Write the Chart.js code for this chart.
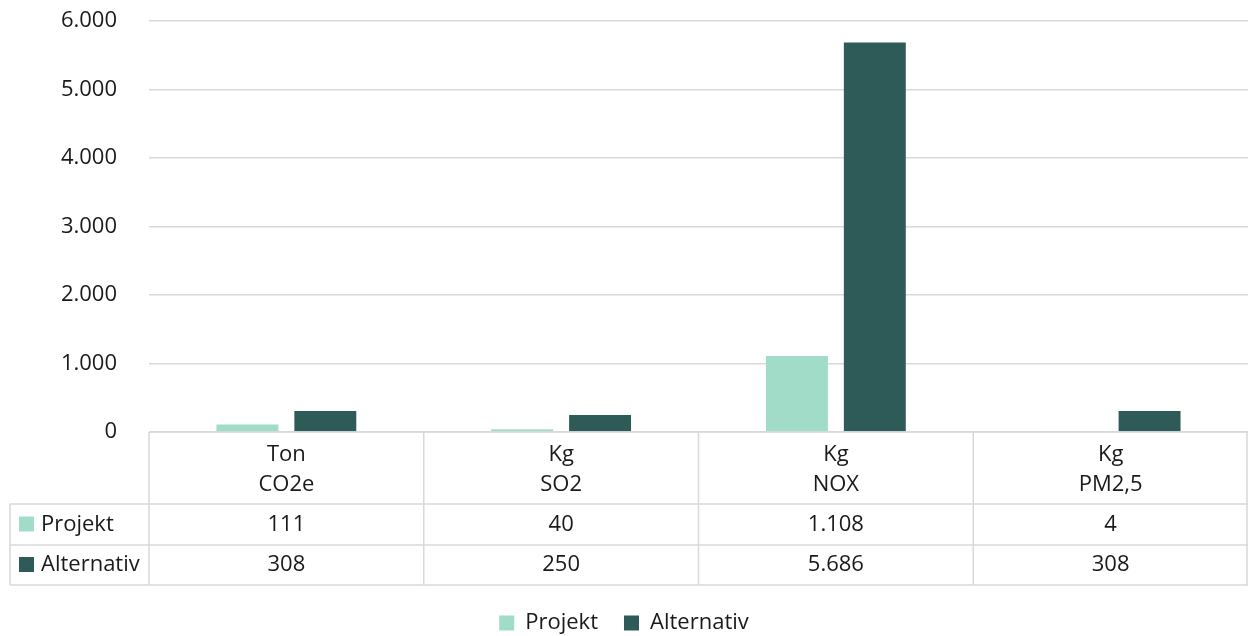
<!DOCTYPE html>
<html>
<head>
<meta charset="utf-8">
<script src="https://cdn.jsdelivr.net/npm/chart.js@4/dist/chart.umd.min.js"></script>
<style>
  html, body { margin: 0; padding: 0; background: #fff; }
  #wrap { width: 1248px; height: 636px; }
</style>
</head>
<body>
<div id="wrap"><canvas id="chart" width="1248" height="636"></canvas></div>
<script>
// data
const categories = [['Ton', 'CO2e'], ['Kg', 'SO2'], ['Kg', 'NOX'], ['Kg', 'PM2,5']];
const seriesNames = ['Projekt', 'Alternativ'];
const projekt = [111, 40, 1108, 4];
const alternativ = [308, 250, 5686, 308];
const yTicks = [0, 1000, 2000, 3000, 4000, 5000, 6000];

const colors = ['#A0DCC8', '#2E5B58'];
const textColor = '#1a1a1a';
const lineColor = '#D9D9D9';
const fontFamily = '"Open Sans", "Noto Sans", sans-serif';
const fontSize = 22;

// danish style thousands: 1.108
const fmt = v => String(v).replace(/\B(?=(\d{3})+(?!\d))/g, '.');

// draws the data table under the plot using the x scale
const dataTable = {
  id: 'dataTable',
  afterDraw(chart) {
    const ctx = chart.ctx;
    const x = chart.scales.x;
    const area = chart.chartArea;
    const n = categories.length;
    const cw = (area.right - area.left) / n;
    const top = x.top;
    const headerBottom = top + 72;
    const rowH = [41, 40];
    const rowsLeft = 10;
    const series = [projekt, alternativ];

    ctx.save();
    ctx.strokeStyle = lineColor;
    ctx.lineWidth = 1.5;
    ctx.beginPath();
    // top line of the header
    ctx.moveTo(area.left, top); ctx.lineTo(area.right, top);
    // row lines
    let y = headerBottom;
    ctx.moveTo(rowsLeft, y); ctx.lineTo(area.right, y);
    rowH.forEach(h => { y += h; ctx.moveTo(rowsLeft, y); ctx.lineTo(area.right, y); });
    const tableBottom = y;
    // vertical lines
    ctx.moveTo(rowsLeft, headerBottom); ctx.lineTo(rowsLeft, tableBottom);
    for (let i = 0; i <= n; i++) {
      const px = i === n ? area.right - 1 : area.left + i * cw;
      ctx.moveTo(px, top); ctx.lineTo(px, tableBottom);
    }
    ctx.stroke();

    ctx.font = fontSize + 'px ' + fontFamily;
    ctx.fillStyle = textColor;
    ctx.textAlign = 'center';
    ctx.textBaseline = 'middle';
    categories.forEach((lbl, i) => {
      const cx = x.getPixelForValue(i);
      ctx.fillText(lbl[0], cx, top + 23);
      ctx.fillText(lbl[1], cx, top + 53);
    });

    let rowTop = headerBottom;
    series.forEach((vals, s) => {
      const cy = rowTop + rowH[s] / 2;
      vals.forEach((v, i) => {
        ctx.textAlign = 'center';
        ctx.fillStyle = textColor;
        ctx.fillText(fmt(v), x.getPixelForValue(i), cy);
      });
      ctx.fillStyle = colors[s];
      ctx.fillRect(19, cy - 8, 15, 15);
      ctx.fillStyle = textColor;
      ctx.textAlign = 'left';
      ctx.fillText(seriesNames[s], 41, cy);
      rowTop += rowH[s];
    });
    ctx.restore();
  }
};

new Chart(document.getElementById('chart'), {
  type: 'bar',
  data: {
    labels: categories,
    datasets: [
      { label: seriesNames[0], data: projekt, backgroundColor: colors[0], borderWidth: 0 },
      { label: seriesNames[1], data: alternativ, backgroundColor: colors[1], borderWidth: 0 }
    ]
  },
  options: {
    responsive: false,
    animation: false,
    categoryPercentage: 0.567,
    barPercentage: 0.795,
    layout: { padding: { top: 21, left: 0, right: 0, bottom: -8 } },
    plugins: {
      tooltip: { enabled: false },
      legend: {
        position: 'bottom',
        labels: {
          boxWidth: 15,
          boxHeight: 15,
          padding: 26,
          color: textColor,
          font: { family: fontFamily, size: fontSize }
        }
      }
    },
    scales: {
      x: {
        grid: { display: false },
        border: { display: false },
        ticks: { display: false },
        afterFit: s => { s.height = 154; }
      },
      y: {
        min: 0,
        max: 6000,
        afterBuildTicks: s => { s.ticks = yTicks.map(v => ({ value: v })); },
        afterFit: s => { s.width = 149; s.paddingTop = 0; s.paddingBottom = 0; },
        grid: { color: lineColor, lineWidth: 1.5, drawTicks: false },
        border: { display: false },
        ticks: {
          padding: 32,
          color: textColor,
          font: { family: fontFamily, size: fontSize },
          callback: v => fmt(v)
        }
      }
    }
  },
  plugins: [dataTable]
});
</script>
</body>
</html>
